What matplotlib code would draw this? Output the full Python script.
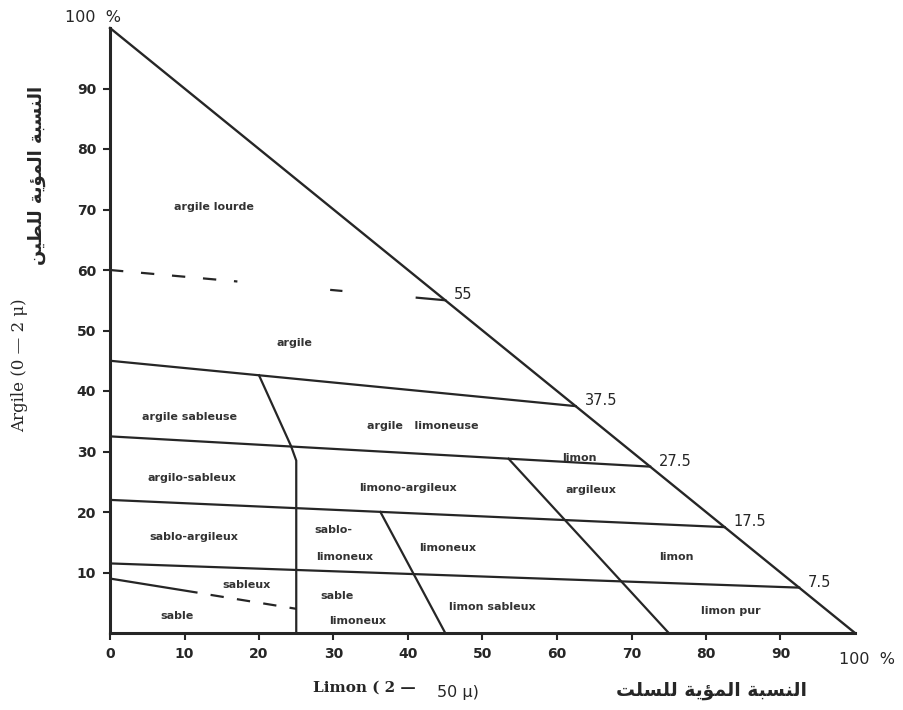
import matplotlib
matplotlib.use('Agg')
import matplotlib.pyplot as plt

# clay % where each class line meets the left axis and the hypotenuse
left_vals = [45, 32.5, 22, 11.5]
edge_vals = [37.5, 27.5, 17.5, 7.5]
# the upper (argile lourde) limit, only partly drawn
heavy_left, heavy_edge = 60, 55
# silt dividers (limon %, argile %)
div1_x = [20, 24.3, 25, 25]
div1_y = [42.6, 30.9, 28.5, 0]
div2_x = [36.3, 45]
div2_y = [20, 0]
div3_x = [53.5, 75]
div3_y = [28.8, 0]
# sable / sableux limit
sand_x = [0, 11.6, 13.5, 25]
sand_y = [9, 6.7, 6.3, 4]

# class names and where they sit (limon %, argile %)
names = ['argile lourde', 'argile', 'argile sableuse', 'argile   limoneuse',
         'argilo-sableux', 'limono-argileux', 'limon', 'argileux',
         'sablo-argileux', 'sablo-', 'limoneux', 'limoneux', 'limon',
         'sableux', 'sable', 'sable', 'limoneux', 'limon sableux', 'limon pur']
name_x = [14, 24.7, 10.7, 42, 11, 40, 63, 64.5, 11.3, 30, 31.5, 45.3, 76,
          18.3, 9, 30.5, 33.3, 51.3, 83.3]
name_y = [70.4, 48, 35.7, 34.2, 25.6, 24, 28.9, 23.6, 15.9, 17, 12.6, 14,
          12.6, 8, 2.8, 6.1, 2, 4.3, 3.6]

ticks = [0, 10, 20, 30, 40, 50, 60, 70, 80, 90]

# Arabic presentation forms (isolated, final, initial, medial)
forms = {
    'ا': ('\uFE8D', '\uFE8E', None, None),
    'ب': ('\uFE8F', '\uFE90', '\uFE91', '\uFE92'),
    'ة': ('\uFE93', '\uFE94', None, None),
    'ت': ('\uFE95', '\uFE96', '\uFE97', '\uFE98'),
    'س': ('\uFEB1', '\uFEB2', '\uFEB3', '\uFEB4'),
    'ط': ('\uFEC1', '\uFEC2', '\uFEC3', '\uFEC4'),
    'ل': ('\uFEDD', '\uFEDE', '\uFEDF', '\uFEE0'),
    'م': ('\uFEE1', '\uFEE2', '\uFEE3', '\uFEE4'),
    'ن': ('\uFEE5', '\uFEE6', '\uFEE7', '\uFEE8'),
    'ي': ('\uFEF1', '\uFEF2', '\uFEF3', '\uFEF4'),
    'ؤ': ('\uFE85', '\uFE86', None, None),
}


def shape(s):
    out = []
    for i, ch in enumerate(s):
        if ch not in forms:
            out.append(ch)
            continue
        prev = s[i - 1] if i > 0 else ' '
        nxt = s[i + 1] if i + 1 < len(s) else ' '
        jp = prev in forms and forms[prev][2] is not None
        jn = nxt in forms and forms[ch][2] is not None
        iso, fin, ini, med = forms[ch]
        if jp and jn:
            out.append(med)
        elif jp:
            out.append(fin)
        elif jn:
            out.append(ini)
        else:
            out.append(iso)
    return ''.join(out[::-1])


ink = '#262626'
fig = plt.figure(figsize=(9.04, 7.10), dpi=100)
ax = fig.add_axes([110 / 904, 77 / 710, 745 / 904, 605 / 710])
ax.set_xlim(0, 100)
ax.set_ylim(0, 100)

for s in ['top', 'right']:
    ax.spines[s].set_visible(False)
for s in ['left', 'bottom']:
    ax.spines[s].set_linewidth(2.2)
    ax.spines[s].set_color(ink)

# hypotenuse
ax.plot([0, 100], [100, 0], color=ink, lw=1.7, clip_on=False)

# heavy clay limit: dashes, a stray dash, and the short solid end
def on_heavy(t):
    return (100 - heavy_edge) * t, heavy_left + (heavy_edge - heavy_left) * t

x0, y0 = on_heavy(0)
x1, y1 = on_heavy(0.38)
ax.plot([x0, x1], [y0, y1], color=ink, lw=1.6, dashes=(6, 8))
x0, y0 = on_heavy(0.66)
x1, y1 = on_heavy(0.69)
ax.plot([x0, x1], [y0, y1], color=ink, lw=1.6)
x0, y0 = on_heavy(0.915)
x1, y1 = on_heavy(1)
ax.plot([x0, x1], [y0, y1], color=ink, lw=1.6)

for lv, ev in zip(left_vals, edge_vals):
    ax.plot([0, 100 - ev], [lv, ev], color=ink, lw=1.6)

ax.plot(div1_x, div1_y, color=ink, lw=1.6)
ax.plot(div2_x, div2_y, color=ink, lw=1.6)
ax.plot(div3_x, div3_y, color=ink, lw=1.6)
ax.plot(sand_x[:2], sand_y[:2], color=ink, lw=1.6)
ax.plot(sand_x[2:], sand_y[2:], color=ink, lw=1.6, dashes=(6, 6))

# limit values along the hypotenuse
for ev in [heavy_edge] + edge_vals:
    ax.text(100 - ev + 1.2, ev + 0.9, str(ev).replace('.0', ''), fontsize=10.5,
            color=ink, ha='left', va='center', clip_on=False)

for n, x, y in zip(names, name_x, name_y):
    ax.text(x, y, n, fontsize=8, fontweight='bold', color='#333333',
            ha='center', va='center')

ax.set_xticks(ticks)
ax.set_xticklabels([str(t) for t in ticks], fontsize=10, fontweight='bold', color=ink)
ax.set_yticks(ticks[1:])
ax.set_yticklabels([str(t) for t in ticks[1:]], fontsize=10, fontweight='bold', color=ink)
ax.tick_params(axis='both', length=5, width=1.5, color=ink, pad=5)

ax.text(97.8, -3.2, '100  %', fontsize=11.5, color=ink, ha='left', va='top', clip_on=False)
ax.text(-6, 101.8, '100  %', fontsize=11.5, color=ink, ha='left', va='center', clip_on=False)

# axis titles
fig.text(20 / 904, 1 - 365 / 710, 'Argile (0 — 2 μ)', family='DejaVu Serif',
         fontsize=12, rotation=90, ha='center', va='center', color=ink)
fig.text(37 / 904, 1 - 175 / 710, shape('النسبة المؤية للطين'), family='DejaVu Sans',
         fontsize=13, fontweight='bold', rotation=90, ha='center', va='center', color=ink)
fig.text(313 / 904, 1 - 688 / 710, 'Limon ( 2 —', family='DejaVu Serif',
         fontsize=11, fontweight='bold', ha='left', va='center', color=ink)
fig.text(437 / 904, 1 - 692 / 710, '50 μ)', family='DejaVu Sans',
         fontsize=11.5, ha='left', va='center', color=ink)
fig.text(712 / 904, 1 - 690 / 710, shape('النسبة المؤية للسلت'), family='DejaVu Sans',
         fontsize=13.5, fontweight='bold', ha='center', va='center', color=ink)

fig.savefig('out.png', dpi=100)
